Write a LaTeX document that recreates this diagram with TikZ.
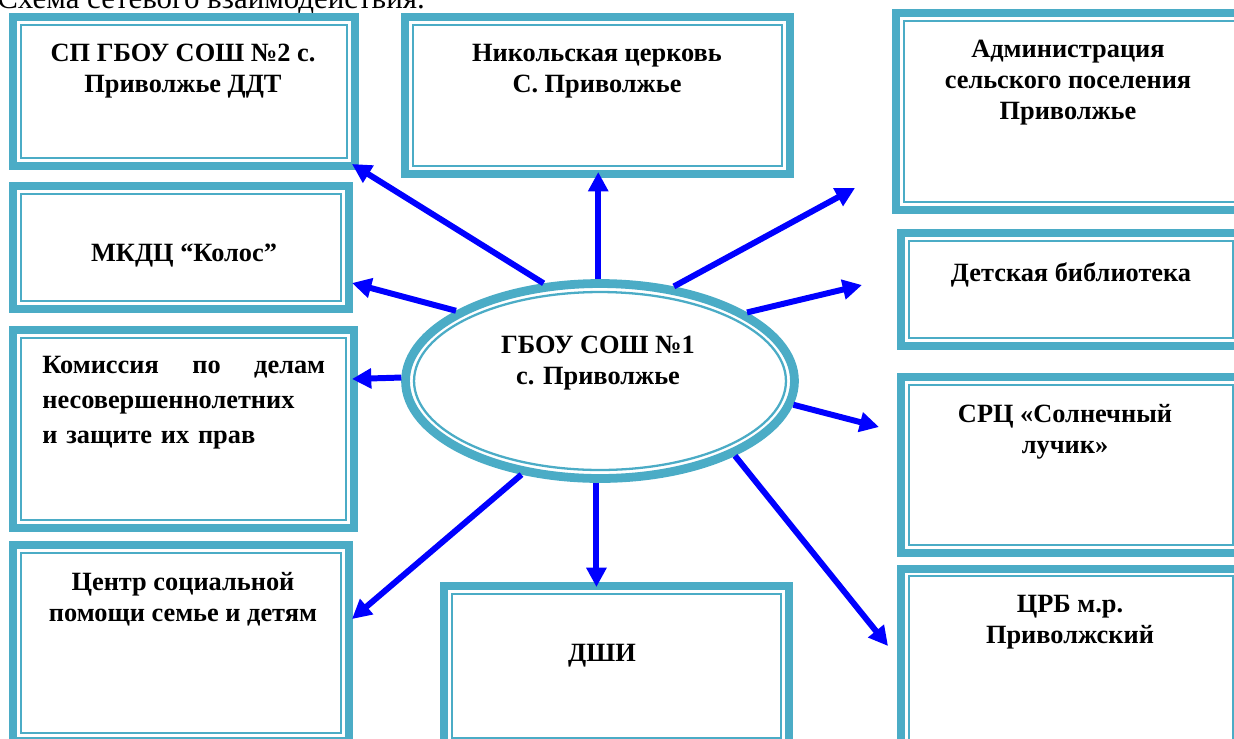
\documentclass[tikz,border=0pt]{standalone}
\usepackage{fontspec}
\setmainfont{Liberation Serif}
\usetikzlibrary{arrows.meta,shapes.geometric}
\definecolor{frame}{RGB}{75,172,198}
\definecolor{linkblue}{RGB}{0,0,255}
\tikzset{
  orgbox/.style={draw=frame, fill=white, line width=4.55pt, inner sep=0pt,
    path picture={\draw[frame, line width=1.2pt]
      ([shift={(4.3pt,-4.3pt)}]path picture bounding box.north west) rectangle
      ([shift={(-4.3pt,4.3pt)}]path picture bounding box.south east);}},
  hubring/.style={ellipse, draw=frame, fill=white, line width=5pt, inner sep=0pt,
    minimum width=7.78cm, minimum height=3.9cm,
    path picture={\draw[frame, line width=1.3pt] (path picture bounding box.center)
      ellipse [x radius=3.72cm, y radius=1.78cm];}},
  boxtext/.style={font=\bfseries\fontsize{15}{17.6}\selectfont, align=center,
    anchor=north, inner sep=0pt},
  link/.style={draw=linkblue, line width=3.4pt,
    -{Triangle[length=11pt,width=11pt]}}
}
\begin{document}
\begin{tikzpicture}[x=0.02cm,y=-0.02cm]
        \useasboundingbox (0,0) rectangle (1234,738);
        \clip (0,0) rectangle (1234,738);
        %% Heading (cut off at the top)
        \node[anchor=base west, inner sep=0pt, font=\fontsize{17.6}{20}\selectfont]
          (heading) at (-3,8) {Схема сетевого взаимодействия.};
        %% Partner boxes
        \node[orgbox, minimum width=6.84cm, minimum height=2.98cm] (ddt) at (184,91.5) {};
        \node[orgbox, minimum width=7.70cm, minimum height=3.14cm] (church) at (597.5,95.5) {};
        \node[orgbox, minimum width=6.94cm, minimum height=3.94cm] (admin) at (1069.5,111.5) {};
        \node[orgbox, minimum width=6.72cm, minimum height=2.46cm] (kolos) at (181,247.5) {};
        \node[orgbox, minimum width=6.80cm, minimum height=2.26cm] (library) at (1071,289.5) {};
        \node[orgbox, minimum width=6.82cm, minimum height=3.96cm] (commission) at (183.5,429) {};
        \node[orgbox, minimum width=6.80cm, minimum height=3.52cm] (src) at (1071,465) {};
        \node[orgbox, minimum width=6.72cm, minimum height=3.92cm] (aid) at (181,643) {};
        \node[orgbox, minimum width=6.90cm, minimum height=3.20cm] (dshi) at (616.5,666) {};
        \node[orgbox, minimum width=6.80cm, minimum height=3.74cm] (crb) at (1071,662) {};
        %% School in the middle
        \node[hubring] (school) at (600,381) {};
        %% Texts
        \node[boxtext] (ddttext) at (183,43.6) {СП ГБОУ СОШ №2 с.\\Приволжье ДДТ};
        \node[boxtext] (churchtext) at (597,43.6) {Никольская церковь\\С. Приволжье};
        \node[boxtext] (admintext) at (1068,40) {Администрация\\сельского поселения\\Приволжье};
        \node[boxtext] (kolostext) at (184,244) {МКДЦ “Колос”};
        \node[boxtext] (librarytext) at (1071,262) {Детская библиотека};
        \node[boxtext, anchor=north west, text width=161pt, align=left,
          font=\bfseries\fontsize{15}{19.9}\selectfont] (commissiontext) at (42,355.6)
          {Комиссия\hfill по\hfill делам\\несовершеннолетних\\и защите их прав};
        \node[boxtext] (srctext) at (1065,404) {СРЦ «Солнечный\\лучик»};
        \node[boxtext] (aidtext) at (183,572) {Центр социальной\\помощи семье и детям};
        \node[boxtext] (dshitext) at (602,644) {ДШИ};
        \node[boxtext] (crbtext) at (1070,594.6) {ЦРБ м.р.\\Приволжский};
        \node[boxtext] (schooltext) at (598,335.6) {ГБОУ СОШ №1\\с. Приволжье};
        %% Arrows
        \draw[link] (school.120.7) -- ([shift={(-7,-6)}]ddt.south east);
        \draw[link] (school.91.2) -- ([yshift=0.12cm]school.91.2 |- church.south);
        \draw[link] (school.52.7) -- ([shift={(-37,-26)}]admin.south west);
        \draw[link] (school.154.2) -- ([shift={(-1,35.5)}]kolos.east);
        \draw[link] (school.25) -- ([shift={(-35,-4.5)}]library.west);
        \draw[link] (school.179.4) -- ([shift={(-6,-50)}]commission.east);
        \draw[link] (school.-7.1) -- ([shift={(-18,-38)}]src.west);
        \draw[link] (school.230) -- ([shift={(-1,78)}]aid.north east);
        \draw[link] (school.268.8) -- ([yshift=-0.1cm]school.268.8 |- dshi.north);
        \draw[link] (school.-29.7) -- ([shift={(-9,-16)}]crb.west);
\end{tikzpicture}
\end{document}
